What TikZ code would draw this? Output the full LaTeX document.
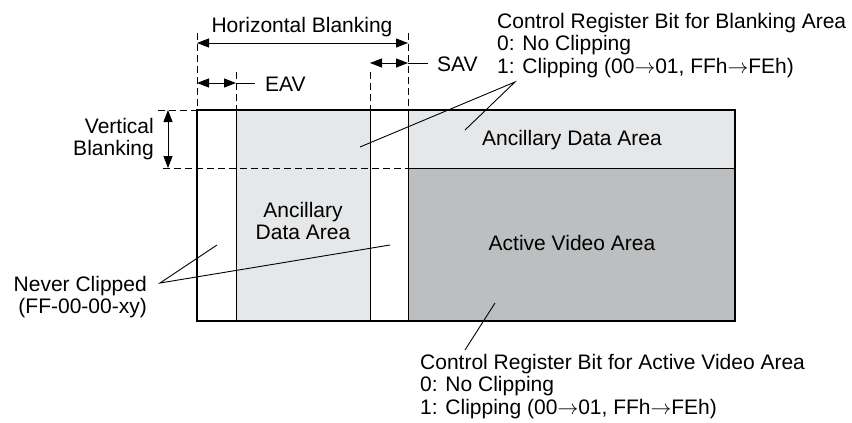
\documentclass[tikz,border=0pt]{standalone}
\usepackage{fontspec}
\setmainfont{Liberation Sans}
\usetikzlibrary{arrows.meta}
\definecolor{ancgray}{HTML}{E6E7E8}
\definecolor{actgray}{HTML}{BCBEC0}

\begin{document}
\begin{tikzpicture}[x=1pt,y=-1pt,
  lbl/.style={font=\fontsize{21}{22.5}\selectfont, inner sep=0pt},
  dim/.style={{Triangle[length=12pt,width=9pt]}-{Triangle[length=12pt,width=9pt]}, line width=1pt},
  guide/.style={dash pattern=on 7pt off 4pt, line width=0.9pt},
  lead/.style={line width=0.9pt}]
\useasboundingbox (0,0) rectangle (852,423);
% areas
\fill[ancgray] (236,110) rectangle (370,321);
\fill[ancgray] (408,110) rectangle (735,168);
\fill[actgray] (408,168) rectangle (735,321);
\foreach \x in {236,370,408} {
\draw[line width=1pt] (\x,110) -- (\x,321);
}
\draw[line width=1pt] (408,168) -- (735,168);
\draw[guide] (163,168) -- (408,168);
\draw[guide] (158,110) -- (197,110);
\draw[line width=2pt] (197,110) rectangle (735,321);
\foreach \x/\y in {197/33,236/72,370/72,408/33} {
\draw[guide] (\x,\y) -- (\x,110);
}
% dimensions
\coordinate (hbl) at (197,43);
\coordinate (hbr) at (408,43);
\coordinate (eavl) at (197,83);
\coordinate (eavr) at (236,83);
\coordinate (eave) at (255,83);
\coordinate (savl) at (370,63);
\coordinate (savr) at (408,63);
\coordinate (save) at (428,63);
\coordinate (vbt) at (168,110);
\coordinate (vbb) at (168,168);
\draw[dim] (hbl) -- (hbr);
\draw[dim] (eavl) -- (eavr);
\draw[lead] (eavr) -- (eave);
\draw[dim] (savl) -- (savr);
\draw[lead] (savr) -- (save);
\draw[dim] (vbt) -- (vbb);
% labels
\node[lbl] (hblank) at (302,27) {Horizontal Blanking};
\node[lbl, anchor=west] (eav) at (265,84) {EAV};
\node[lbl, anchor=west] (sav) at (437,64) {SAV};
\node[lbl, anchor=east, align=right] (vblank) at (154,139) {Vertical\\Blanking};
\node[lbl, anchor=east, align=right] (never) at (147,297) {Never Clipped\\(FF-00-00-xy)};
\node[lbl, align=center] (ancl) at (303,221) {Ancillary\\Data Area};
\node[lbl] (ancr) at (572,140) {Ancillary Data Area};
\node[lbl] (active) at (572,243) {Active Video Area};
\node[lbl, anchor=north west, align=left] (ctrlb) at (497,13) {Control Register Bit for Blanking Area\\0: No Clipping\\1: Clipping (00$\rightarrow$01, FFh$\rightarrow$FEh)};
\node[lbl, anchor=north west, align=left] (ctrla) at (420,354) {Control Register Bit for Active Video Area\\0: No Clipping\\1: Clipping (00$\rightarrow$01, FFh$\rightarrow$FEh)};
% leaders
\coordinate (bk) at (515,82);
\coordinate (bk1) at (465,130);
\coordinate (bk2) at (360,147);
\coordinate (nc) at (160,283);
\coordinate (nc1) at (217,245);
\coordinate (nc2) at (390,245);
\coordinate (av) at (465,350);
\coordinate (av1) at (495,303);
\draw[lead] (bk1) -- (bk) -- (bk2);
\draw[lead] (nc1) -- (nc) -- (nc2);
\draw[lead] (av) -- (av1);
\end{tikzpicture}
\end{document}
